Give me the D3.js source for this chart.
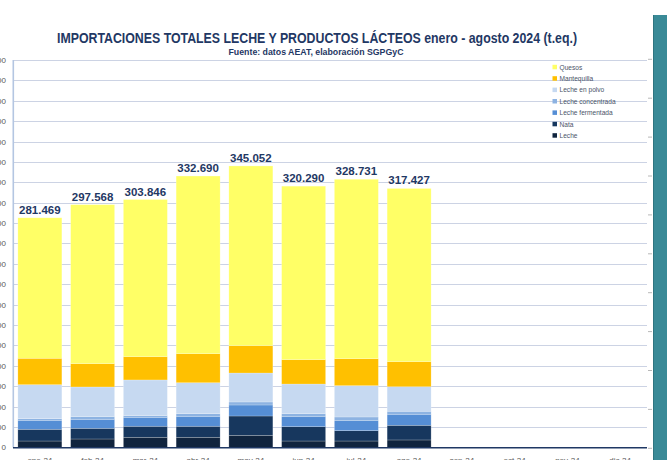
<!DOCTYPE html>
<html><head><meta charset="utf-8">
<script src="https://cdn.jsdelivr.net/npm/d3@7"></script>
<style>
html,body{margin:0;padding:0;background:#fff;overflow:hidden}
svg{display:block;font-family:"Liberation Sans",Arial,sans-serif}
</style></head>
<body><svg id="c" width="667" height="460"></svg>
<script>
const categories = ["ene-24","feb-24","mar-24","abr-24","may-24","jun-24","jul-24","ago-24","sep-24","oct-24","nov-24","dic-24"];
const months = ["ene-24","feb-24","mar-24","abr-24","may-24","jun-24","jul-24","ago-24"];
const leche       = [7700, 10200, 12300, 12300, 14700, 7700, 7700, 9000];
const nata        = [14400, 13100, 13500, 13500, 23700, 17600, 12700, 18000];
const lecheFerm   = [11000, 11000, 11000, 12200, 13500, 12200, 12200, 13500];
const lecheConc   = [2000, 3200, 2000, 3200, 3700, 3700, 4600, 3700];
const lechePolvo  = [41700, 36500, 43800, 38000, 35500, 36400, 38400, 30100];
const mantequilla = [32400, 28600, 28500, 35600, 33500, 29900, 33100, 30700];
const quesos      = [172269, 194968, 192746, 217890, 220452, 212790, 220031, 212427];
const totals      = [281469, 297568, 303846, 332690, 345052, 320290, 328731, 317427];
const yTicks = d3.range(0, 475001, 25000);
const seriesNames = ["Leche","Nata","Leche fermentada","Leche concentrada","Leche en polvo","Mantequilla","Quesos"];
const seriesData = [leche, nata, lecheFerm, lecheConc, lechePolvo, mantequilla, quesos];
const colors = ["#10243e","#17375e","#558ed5","#8db3e2","#c6d9f1","#ffc000","#ffff66"];

const svg = d3.select("#c");
const x = d3.scaleBand().domain(categories).range([13.5, 646.5]).paddingInner(0.166).paddingOuter(0.083);
const y = d3.scaleLinear().domain([0, 475000]).range([447.3, 60]);
const y2 = d3.scaleLinear().domain([0, 10]).range([448.3, 59.3]);
const fmt = d3.formatLocale({decimal:",", thousands:".", grouping:[3], currency:["","€"]}).format(",d");

// teal strip
svg.append("rect").attr("x",653).attr("y",15).attr("width",14).attr("height",445).attr("fill","#3a8a97");
svg.append("line").attr("x1",653.5).attr("x2",653.5).attr("y1",15).attr("y2",460).attr("stroke","#2f7580").attr("stroke-width",1);

// gridlines
svg.append("g").selectAll("line").data(yTicks.slice(1)).join("line")
  .attr("x1",14).attr("x2",647).attr("y1",d=>Math.round(y(d))+0.5).attr("y2",d=>Math.round(y(d))+0.5)
  .attr("stroke","#ccd3e4").attr("stroke-width",1);

// right secondary tick marks
svg.append("g").selectAll("line").data(d3.range(0,11)).join("line")
  .attr("x1",648).attr("x2",652).attr("y1",d=>y2(d)).attr("y2",d=>y2(d))
  .attr("stroke","#a6a6a6").attr("stroke-width",0.8);

// y labels
svg.append("g").selectAll("text").data(yTicks).join("text")
  .attr("x",6).attr("y",d=>y(d)+3).attr("text-anchor","end")
  .attr("font-size",8).attr("fill","#595959").text(d=>fmt(d));

// stacked bars
const rows = months.map((m,i)=>{const o={cat:m}; seriesNames.forEach((s,j)=>o[s]=seriesData[j][i]); return o;});
const stack = d3.stack().keys(seriesNames)(rows);
svg.append("g").selectAll("g").data(stack).join("g").attr("fill",(d,i)=>colors[i])
  .selectAll("rect").data(d=>d).join("rect")
  .attr("x",d=>x(d.data.cat)).attr("width",x.bandwidth())
  .attr("y",d=>y(d[1])).attr("height",d=>y(d[0])-y(d[1]))
  .attr("stroke","rgba(255,255,255,0.35)").attr("stroke-width",0.6);

// left axis line
svg.append("line").attr("x1",13.3).attr("x2",13.3).attr("y1",60).attr("y2",447.5)
  .attr("stroke","#b4c6e2").attr("stroke-width",1.6);
// x axis line
svg.append("line").attr("x1",13).attr("x2",647).attr("y1",447.8).attr("y2",447.8)
  .attr("stroke","#1f3864").attr("stroke-width",1.5);

// x labels
svg.append("g").selectAll("text").data(categories).join("text")
  .attr("x",d=>x(d)+x.bandwidth()/2).attr("y",463).attr("text-anchor","middle")
  .attr("font-size",8).attr("fill","#595959").text(d=>d);

// total labels
svg.append("g").selectAll("text").data(months).join("text")
  .attr("x",d=>x(d)+x.bandwidth()/2).attr("y",(d,i)=>y(totals[i])-4).attr("text-anchor","middle")
  .attr("font-size",11.5).attr("font-weight","bold").attr("fill","#1f3864").text((d,i)=>fmt(totals[i]));

// legend
const legendOrder = seriesNames.map((s,i)=>({s, c:colors[i]})).reverse();
const lg = svg.append("g").selectAll("g").data(legendOrder).join("g")
  .attr("transform",(d,i)=>`translate(552.5,${67.3 + i*11.4})`);
lg.append("rect").attr("x",0).attr("y",-2.5).attr("width",4.5).attr("height",4.5).attr("fill",d=>d.c);
lg.append("text").attr("x",7).attr("y",2.3).attr("font-size",6.6).attr("fill","#4a5468").text(d=>d.s);

// titles
svg.append("text").attr("x",317).attr("y",43).attr("text-anchor","middle")
  .attr("font-size",14.5).attr("font-weight","bold").attr("fill","#1f3864")
  .attr("textLength",520).attr("lengthAdjust","spacingAndGlyphs")
  .text("IMPORTACIONES TOTALES LECHE Y PRODUCTOS LÁCTEOS enero - agosto 2024 (t.eq.)");
svg.append("text").attr("x",316).attr("y",55).attr("text-anchor","middle")
  .attr("font-size",8.6).attr("font-weight","bold").attr("fill","#1f3864")
  .attr("textLength",175).attr("lengthAdjust","spacingAndGlyphs")
  .text("Fuente: datos AEAT, elaboración SGPGyC");
</script></body></html>
